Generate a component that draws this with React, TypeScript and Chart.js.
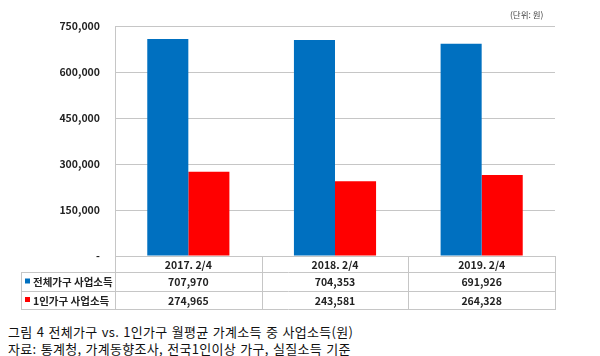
import React, { useEffect, useRef } from "react";
import { Chart, registerables } from "chart.js";

Chart.register(...registerables);

const categories = ["2017. 2/4", "2018. 2/4", "2019. 2/4"];
const seriesNames = ["전체가구 사업소득", "1인가구 사업소득"];
const totalHousehold = [707970, 704353, 691926];
const singleHousehold = [274965, 243581, 264328];
const seriesColors = ["#0070C0", "#FF0000"];
const yTicks = [0, 150000, 300000, 450000, 600000, 750000];
const unitLabel = "(단위: 원)";
const caption1 = "그림 4 전체가구 vs. 1인가구 월평균 가계소득 중 사업소득(원)";
const caption2 = "자료: 통계청, 가계동향조사, 전국1인이상 가구, 실질소득 기준";

const FONT = '"Noto Sans CJK KR", "Noto Sans", sans-serif';
const LINE = "#c6c6c6";

const fmt = (v: number) => (v === 0 ? "-" : v.toLocaleString("en-US"));

const tablePlugin = {
  id: "dataTable",
  afterDraw(chart: any) {
    const ctx = chart.ctx;
    const area = chart.chartArea;
    const x = chart.scales.x;
    const n = categories.length;
    const bounds: number[] = [area.left];
    for (let i = 0; i < n - 1; i++) {
      bounds.push(Math.round((x.getPixelForValue(i) + x.getPixelForValue(i + 1)) / 2));
    }
    bounds.push(area.right);
    const top = Math.round(area.bottom);
    const rows = [top, top + 16, top + 35, top + 53];
    const tableLeft = 21;
    ctx.save();
    ctx.strokeStyle = LINE;
    ctx.lineWidth = 1;
    const h = (y: number, x0: number, x1: number) => {
      ctx.beginPath();
      ctx.moveTo(x0, y + 0.5);
      ctx.lineTo(x1, y + 0.5);
      ctx.stroke();
    };
    const v = (xx: number, y0: number, y1: number) => {
      ctx.beginPath();
      ctx.moveTo(xx + 0.5, y0);
      ctx.lineTo(xx + 0.5, y1);
      ctx.stroke();
    };
    h(rows[0], area.left, area.right + 1);
    h(rows[1], tableLeft, area.right + 1);
    h(rows[2], tableLeft, area.right + 1);
    h(rows[3], tableLeft, area.right + 1);
    v(tableLeft, rows[1], rows[3] + 1);
    bounds.forEach((b) => {
      v(Math.round(b), rows[0], rows[3] + 1);
    });
    ctx.fillStyle = "#222";
    ctx.textAlign = "center";
    ctx.textBaseline = "middle";
    ctx.font = `bold 10.5px ${FONT}`;
    categories.forEach((c, i) => {
      ctx.fillText(c, x.getPixelForValue(i), (rows[0] + rows[1]) / 2 + 1);
    });
    const data = [totalHousehold, singleHousehold];
    data.forEach((series, r) => {
      const cy = (rows[r + 1] + rows[r + 2]) / 2 + 1;
      ctx.fillStyle = seriesColors[r];
      ctx.fillRect(tableLeft + 4, cy - 4, 5, 5);
      ctx.fillStyle = "#222";
      ctx.textAlign = "left";
      ctx.fillText(seriesNames[r], tableLeft + 12, cy);
      ctx.textAlign = "center";
      series.forEach((val, i) => {
        ctx.fillText(fmt(val), x.getPixelForValue(i), cy);
      });
    });
    ctx.restore();
  },
};

export default function App() {
  const ref = useRef<HTMLCanvasElement>(null);
  useEffect(() => {
    if (!ref.current) return;
    const chart = new Chart(ref.current, {
      type: "bar",
      data: {
        labels: categories,
        datasets: [
          {
            label: seriesNames[0],
            data: totalHousehold,
            backgroundColor: seriesColors[0],
            categoryPercentage: 0.56,
            barPercentage: 1,
          },
          {
            label: seriesNames[1],
            data: singleHousehold,
            backgroundColor: seriesColors[1],
            categoryPercentage: 0.56,
            barPercentage: 1,
          },
        ],
      },
      options: {
        animation: false,
        responsive: false,
        layout: { padding: { top: 26, right: 45, bottom: 56, left: 0 } },
        plugins: { legend: { display: false }, tooltip: { enabled: false } },
        scales: {
          x: { display: false },
          y: {
            min: 0,
            max: 750000,
            afterFit: (s: any) => {
              s.width = 115;
            },
            afterBuildTicks: (s: any) => {
              s.ticks = yTicks.map((t) => ({ value: t }));
            },
            grid: { color: LINE, drawTicks: false },
            border: { color: LINE },
            ticks: {
              padding: 15,
              color: "#222",
              font: { family: FONT, size: 10.5, weight: "bold" },
              callback: (val: any) => fmt(Number(val)),
            },
          },
        },
      },
      plugins: [tablePlugin],
    });
    return () => chart.destroy();
  }, []);
  return (
    <div style={{ position: "absolute", left: 0, top: 0, width: 600, height: 356, background: "#fff", fontFamily: FONT }}>
      <canvas ref={ref} width={600} height={312} style={{ position: "absolute", left: 0, top: 0 }} />
      <div style={{ position: "absolute", left: 510, top: 8, fontSize: 8.5, color: "#444", whiteSpace: "nowrap" }}>{unitLabel}</div>
      <div style={{ position: "absolute", left: 8, top: 323, fontSize: 13, letterSpacing: "0.3px", wordSpacing: "1px", color: "#111", whiteSpace: "nowrap", lineHeight: "17px" }}>
        <div>{caption1}</div>
        <div>{caption2}</div>
      </div>
    </div>
  );
}
